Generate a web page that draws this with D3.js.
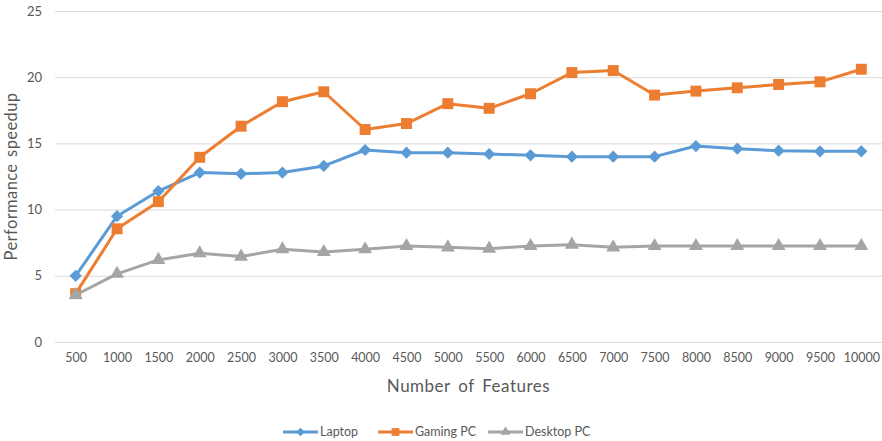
<!DOCTYPE html>
<html>
<head>
<meta charset="utf-8">
<script src="https://cdn.jsdelivr.net/npm/d3@7"></script>
<style>
  html, body { margin: 0; padding: 0; background: #fff; }
  svg { display: block; }
  text { font-family: Lato, "Open Sans", sans-serif; fill: #595959; }
</style>
</head>
<body>
<svg id="chart" width="882" height="441"></svg>
<script>
// Feature counts along the x axis
const features = [500, 1000, 1500, 2000, 2500, 3000, 3500, 4000, 4500, 5000,
                  5500, 6000, 6500, 7000, 7500, 8000, 8500, 9000, 9500, 10000];

// Speedup measured on each machine
const laptop = [5.0, 9.5, 11.4, 12.8, 12.7, 12.8, 13.3, 14.5, 14.3, 14.3,
                14.2, 14.1, 14.0, 14.0, 14.0, 14.8, 14.6, 14.45, 14.4, 14.4];
const gamingPC = [3.65, 8.55, 10.6, 13.95, 16.3, 18.15, 18.9, 16.05, 16.5, 18.0,
                  17.65, 18.75, 20.35, 20.5, 18.65, 18.95, 19.2, 19.45, 19.65, 20.6];
const desktopPC = [3.55, 5.15, 6.2, 6.7, 6.45, 7.0, 6.8, 7.0, 7.25, 7.15,
                   7.05, 7.25, 7.35, 7.15, 7.25, 7.25, 7.25, 7.25, 7.25, 7.25];

const yTicks = [0, 5, 10, 15, 20, 25];
const seriesNames = ["Laptop", "Gaming PC", "Desktop PC"];

const series = [
  { name: seriesNames[0], values: laptop, color: "#5B9BD5", symbol: d3.symbolDiamond2, size: 95 },
  { name: seriesNames[1], values: gamingPC, color: "#ED7D31", symbol: d3.symbolSquare, size: 120 },
  { name: seriesNames[2], values: desktopPC, color: "#A5A5A5", symbol: d3.symbolTriangle, size: 85 }
];

const svg = d3.select("#chart");
const plotLeft = 55, plotRight = 882, plotTop = 11, plotBottom = 342;

const x = d3.scalePoint().domain(features).range([plotLeft, plotRight]).padding(0.5);
const y = d3.scaleLinear().domain([0, 25]).range([plotBottom, plotTop]);

// Horizontal gridlines
svg.append("g")
  .selectAll("line")
  .data(yTicks)
  .join("line")
  .attr("x1", plotLeft).attr("x2", plotRight)
  .attr("y1", d => y(d) + 0.5).attr("y2", d => y(d) + 0.5)
  .attr("stroke", "#D9D9D9")
  .attr("stroke-width", 1);

// Y axis labels
const yAxis = svg.append("g")
  .attr("transform", `translate(${plotLeft - 13},0)`)
  .call(d3.axisLeft(y).tickValues(yTicks).tickSize(0).tickPadding(0));
yAxis.select(".domain").remove();
yAxis.selectAll("text").attr("font-size", 13).attr("fill", "#595959")
  .style("font-family", "Lato, sans-serif");

// X axis labels
const xAxis = svg.append("g")
  .attr("transform", `translate(0,${plotBottom + 11})`)
  .call(d3.axisBottom(x).tickSize(0).tickPadding(0));
xAxis.select(".domain").remove();
xAxis.selectAll("text").attr("font-size", 12.5).attr("fill", "#595959")
  .style("font-family", "Lato, sans-serif");

// Axis titles
svg.append("text")
  .attr("transform", `translate(17,${(plotTop + plotBottom) / 2}) rotate(-90)`)
  .attr("text-anchor", "middle")
  .attr("font-size", 16.5)
  .attr("letter-spacing", 0.4)
  .attr("word-spacing", 2)
  .text("Performance speedup");

svg.append("text")
  .attr("x", (plotLeft + plotRight) / 2)
  .attr("y", 392)
  .attr("text-anchor", "middle")
  .attr("font-size", 17)
  .attr("letter-spacing", 0.5)
  .attr("word-spacing", 3)
  .text("Number of Features");

// Lines and markers
const line = d3.line().x((d, i) => x(features[i])).y(d => y(d));

const groups = svg.append("g")
  .selectAll("g")
  .data(series)
  .join("g");

groups.append("path")
  .attr("d", s => line(s.values))
  .attr("fill", "none")
  .attr("stroke", s => s.color)
  .attr("stroke-width", 3)
  .attr("stroke-linejoin", "round");

groups.each(function (s) {
  const sym = d3.symbol().type(s.symbol).size(s.size);
  d3.select(this).selectAll("path.marker")
    .data(s.values)
    .join("path")
    .attr("class", "marker")
    .attr("d", sym)
    .attr("transform", (d, i) => `translate(${x(features[i])},${y(d)})`)
    .attr("fill", s.color);
});

// Legend
const legendX = [283, 378, 488];
const legend = svg.append("g")
  .selectAll("g")
  .data(series)
  .join("g")
  .attr("transform", (s, i) => `translate(${legendX[i]},432)`);

legend.append("line")
  .attr("x1", 0).attr("x2", 35)
  .attr("stroke", s => s.color)
  .attr("stroke-width", 3);

legend.append("path")
  .attr("d", s => d3.symbol().type(s.symbol).size(s.size * 0.5)())
  .attr("transform", "translate(17.5,0)")
  .attr("fill", s => s.color);

legend.append("text")
  .attr("x", 37)
  .attr("dy", "0.35em")
  .attr("font-size", 12.5)
  .text(s => s.name);
</script>
</body>
</html>
